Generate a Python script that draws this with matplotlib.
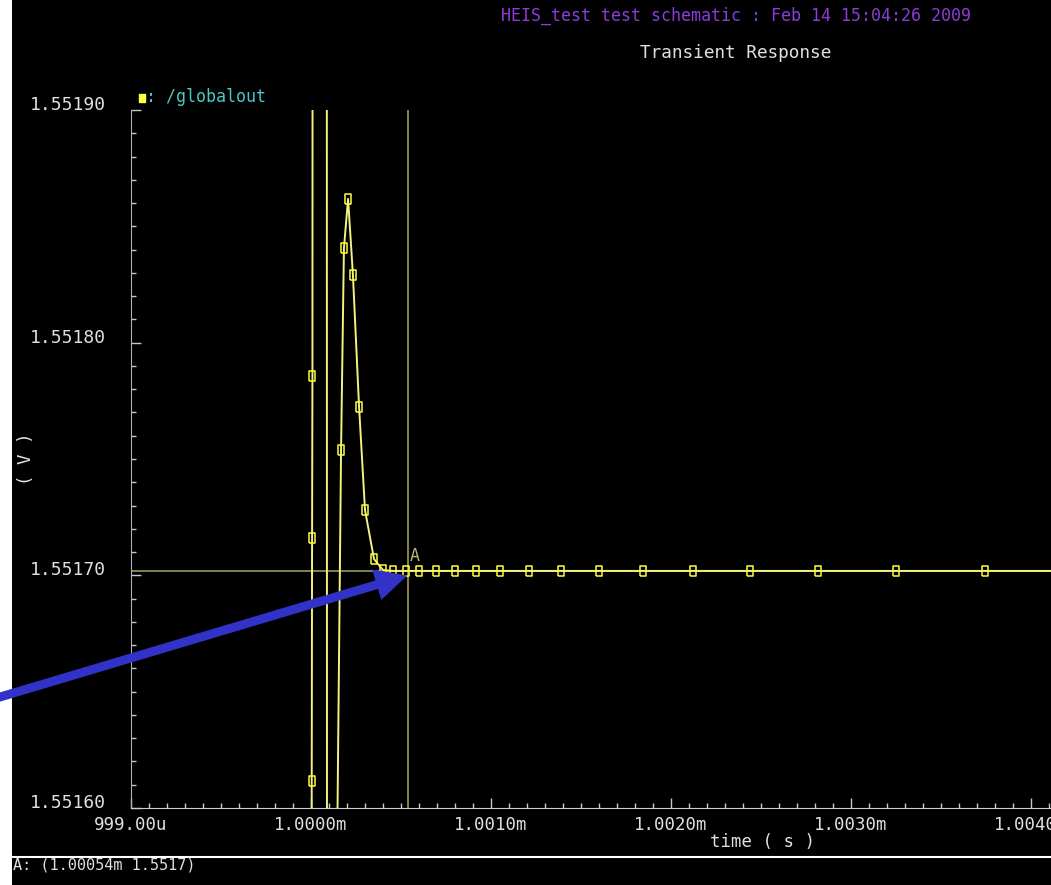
import matplotlib
matplotlib.use('Agg')
import matplotlib.pyplot as plt
from matplotlib.lines import Line2D
from matplotlib.patches import Rectangle
from matplotlib.ticker import MultipleLocator

plt.rcParams['font.family'] = ['DejaVu Sans Mono', 'DejaVu Sans']

# /globalout waveform, time in microseconds, value in volts
# (points outside 1.5516..1.5519 are where the trace leaves the window)
time_us = [999.00, 1000.000, 1000.004, 1000.006, 1000.008, 1000.016,
           1000.084, 1000.094, 1000.110, 1000.122,
           1000.167, 1000.183, 1000.206, 1000.233, 1000.267, 1000.300,
           1000.350, 1000.400, 1000.456, 1000.528, 1000.600, 1000.694,
           1000.800, 1000.917, 1001.050, 1001.211, 1001.389, 1001.600,
           1001.844, 1002.122, 1002.439, 1002.817, 1003.250, 1003.744,
           1004.30]
globalout = [1.5495, 1.5495, 1.5516116, 1.5517161, 1.5517857, 1.5535,
             1.5535, 1.5495, 1.5495, 1.5514,
             1.5517539, 1.5518407, 1.5518618, 1.5518291, 1.5517724, 1.5517281,
             1.5517070, 1.5517023, 1.5517019, 1.5517019, 1.5517019, 1.5517019,
             1.5517019, 1.5517019, 1.5517019, 1.5517019, 1.5517019, 1.5517019,
             1.5517019, 1.5517019, 1.5517019, 1.5517019, 1.5517019, 1.5517019,
             1.5517019]

x_ticks = [999, 1000, 1001, 1002, 1003, 1004]
x_labels = ['999.00u', '1.0000m', '1.0010m', '1.0020m', '1.0030m', '1.0040m']
y_ticks = [1.5516, 1.5517, 1.5518, 1.5519]
y_labels = ['1.55160', '1.55170', '1.55180', '1.55190']

# marker A
marker_t = 1000.54
marker_v = 1.5517019

fig = plt.figure(figsize=(10.51, 8.85), dpi=100, facecolor='black')
fig.patches.append(Rectangle((0, 0), 12 / 1051, 1, transform=fig.transFigure,
                             facecolor='white', edgecolor='none', zorder=-1))

ax = fig.add_axes([131 / 1051, 77 / 885, 920 / 1051, 698 / 885])
ax.set_facecolor('black')

# marker A cross-hair
ax.axvline(marker_t, color='#a8a860', lw=1.1, zorder=1)
ax.axhline(marker_v, color='#a8a860', lw=1.1, zorder=1)
ax.text(marker_t + 0.01, marker_v + 0.0000025, 'A', color='#b8b870',
        fontsize=12, ha='left', va='bottom')

rect = [(-0.35, -0.5), (0.35, -0.5), (0.35, 0.5), (-0.35, 0.5), (-0.35, -0.5)]
ax.plot(time_us, globalout, color='#f2f282', lw=1.4, marker=rect,
        markersize=6.5, mfc='none', mec='#ffff40', mew=1.1, zorder=2)

ax.set_xlim(999.0, 999.0 + 920 / 180)
ax.set_ylim(1.5516, 1.5519)

ax.set_xticks(x_ticks)
ax.set_xticklabels(x_labels)
ax.set_yticks(y_ticks)
ax.set_yticklabels(y_labels)
ax.xaxis.set_minor_locator(MultipleLocator(0.1))
ax.yaxis.set_minor_locator(MultipleLocator(0.00001))
ax.tick_params(which='both', direction='in', colors='#c8c8c8', width=1)
ax.tick_params(which='major', length=7)
ax.tick_params(which='minor', length=3.5)
ax.tick_params(axis='x', pad=6, labelsize=12.5, labelcolor='#e0e0e0')
ax.tick_params(axis='y', pad=18, labelsize=13, labelcolor='#e0e0e0')
for lab in ax.get_yticklabels():
    lab.set_va('baseline')

for s in ['top', 'right']:
    ax.spines[s].set_visible(False)
ax.spines['left'].set_color('#b0b0b0')
ax.spines['bottom'].set_color('#d0d0d0')

ax.set_xlabel('time ( s )', color='#e0e0e0', fontsize=12.5)
ax.xaxis.set_label_coords((763 - 131) / 920, -0.036)
ax.set_ylabel('( V )', color='#e0e0e0', fontsize=12.5)
ax.yaxis.set_label_coords(-0.104, 0.5)

# headers
fig.text(736 / 1051, 1 - 16 / 885, 'HEIS_test test schematic : Feb 14 15:04:26 2009',
         color='#8c3cd8', fontsize=12, ha='center', va='center')
fig.text(736 / 1051, 1 - 53 / 885, 'Transient Response', color='#e0e0e0',
         fontsize=12.8, ha='center', va='center')

# legend entry
fig.add_artist(Line2D([142 / 1051], [1 - 98 / 885], marker=rect, markersize=6,
                      mfc='#ffff40', mec='#ffff40', ls='none',
                      transform=fig.transFigure))
fig.text(146 / 1051, 1 - 97 / 885, ': /globalout', color='#4cc8c8',
         fontsize=12, ha='left', va='center')

# status bar
fig.add_artist(Line2D([10 / 1051, 1], [1 - 857 / 885, 1 - 857 / 885],
                      color='white', lw=1.5, transform=fig.transFigure))
fig.text(13 / 1051, 1 - 865 / 885, 'A: (1.00054m 1.5517)', color='#e0e0e0',
         fontsize=11, ha='left', va='center')

# blue pointer arrow onto marker A
ax.annotate('', xy=(marker_t - 0.005, marker_v - 0.000002),
            xytext=(-10, 885 - 700), textcoords='figure pixels',
            arrowprops=dict(arrowstyle='simple,head_length=1.15,head_width=1.15,tail_width=0.32',
                            mutation_scale=20, fc='#3232c8', ec='none', lw=0,
                            shrinkA=0, shrinkB=0),
            annotation_clip=False, zorder=5)

fig.savefig('out.png', dpi=100, facecolor='black')
